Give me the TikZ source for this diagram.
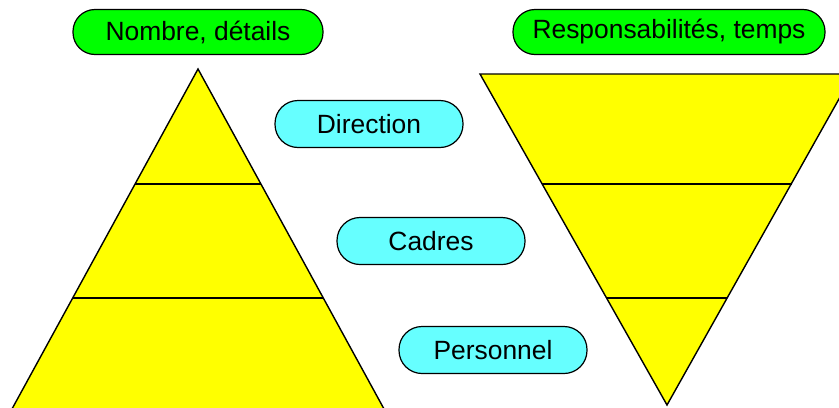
\documentclass[tikz,border=0pt]{standalone}
\usepackage{fontspec}
\setmainfont{Liberation Sans}
\usepackage{tikz}
\definecolor{titlegreen}{RGB}{0,255,0}
\definecolor{levelcyan}{RGB}{102,255,255}
\definecolor{layeryellow}{RGB}{255,255,0}

\begin{document}
\begin{tikzpicture}[x=0.5pt, y=-0.5pt,
		title_style/.style={rectangle,rounded corners=11pt,draw=black,fill=titlegreen,line width=0.6pt,minimum width=125pt,minimum height=22.5pt,inner sep=0pt,font=\fontsize{13.2}{15}\selectfont},
		level_style/.style={rectangle,rounded corners=11.5pt,draw=black,fill=levelcyan,line width=0.6pt,minimum width=94pt,minimum height=23.5pt,inner sep=0pt,font=\fontsize{13.2}{15}\selectfont},
		layer_style/.style={draw=black,fill=layeryellow,line width=0.7pt},
		edge_style/.style={draw=black,line width=0.8pt}]
		\useasboundingbox (0,0) rectangle (839,407);
		\clip (0,0) rectangle (839,407);
		% pyramide
		\coordinate (p_top) at (198,69);
		\draw[layer_style] (p_top) -- (-5,440) -- (401,440) -- cycle;
		\draw[edge_style] (135,184) -- (261,184);
		\draw[edge_style] (73,298) -- (323,298);
		% pyramide inversee
		\coordinate (q_tl) at (480,74);
		\coordinate (q_tr) at (853,74);
		\coordinate (q_bot) at (667,405);
		\draw[layer_style] (q_tl) -- (q_tr) -- (q_bot) -- cycle;
		\draw[edge_style] (542,184) -- (792,184);
		\draw[edge_style] (607,298) -- (727,298);
		% etiquettes
		\node[title_style] (nombre) at (198,32) {Nombre, détails};
		\node[title_style, minimum width=156pt] (resp) at (669,32) {Responsabilités, temps};
		\node[level_style] (direction) at (369,124) {Direction};
		\node[level_style] (cadres) at (431,241) {Cadres};
		\node[level_style] (personnel) at (493,350) {Personnel};
		\end{tikzpicture}
\end{document}
